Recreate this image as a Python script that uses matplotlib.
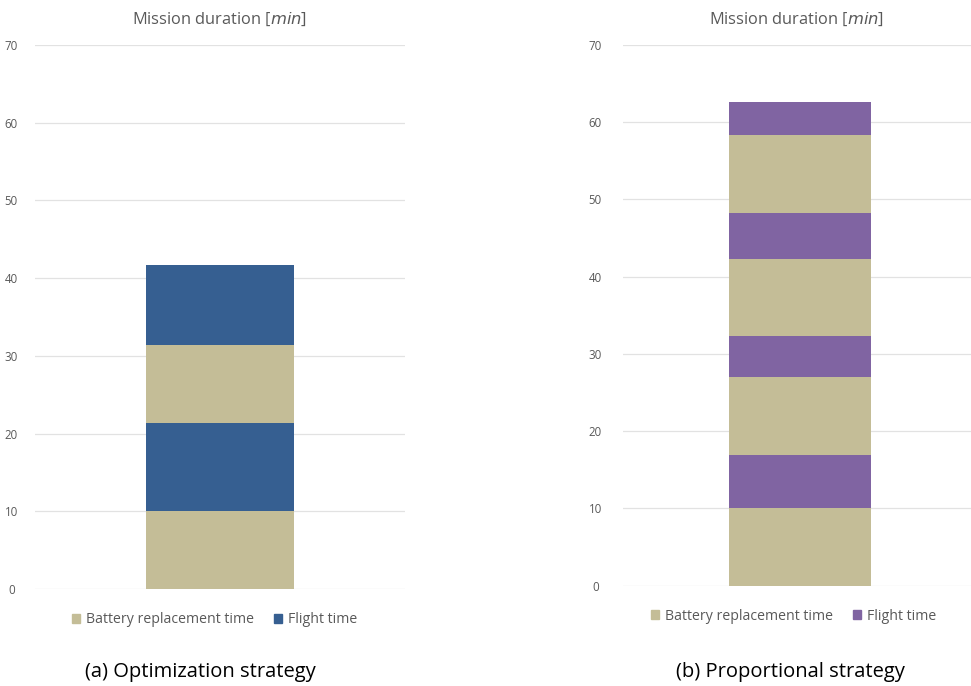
import matplotlib.pyplot as plt
from matplotlib.patches import Patch

plt.rcParams['font.family'] = ['Open Sans', 'DejaVu Sans']

# mission segments, bottom to top: battery swap, flight, battery swap, flight ...
opt_battery = [10, 10]
opt_flight = [11.4, 10.35]
prop_battery = [10, 10, 10, 10]
prop_flight = [6.95, 5.3, 6.05, 4.3]

yticks = [0, 10, 20, 30, 40, 50, 60, 70]
title = "Mission duration [$\\it{min}$]"
labels = ["Battery replacement time", "Flight time"]
captions = ["(a) Optimization strategy", "(b) Proportional strategy"]

tan = "#C4BD97"
blue = "#365F91"
purple = "#8064A2"
grey = "#595959"

fig = plt.figure(figsize=(9.71, 6.86), dpi=100)
ax1 = fig.add_axes([0.036, 0.1414, 0.381, 0.793])
ax2 = fig.add_axes([0.6416, 0.1465, 0.3584, 0.788])


def draw(ax, battery, flight, fcolor, xlim, pad, legx):
    bottom = 0
    for b, f in zip(battery, flight):
        ax.bar(0, b, width=0.4, bottom=bottom, color=tan, zorder=3)
        bottom += b
        ax.bar(0, f, width=0.4, bottom=bottom, color=fcolor, zorder=3)
        bottom += f
    ax.set_xlim(*xlim)
    ax.set_ylim(0, 70)
    ax.set_yticks(yticks)
    ax.set_xticks([])
    ax.grid(axis='y', color='#E2E2E2', linewidth=0.9, zorder=0)
    for s in ax.spines.values():
        s.set_visible(False)
    ax.tick_params(axis='y', length=0, labelsize=8.3, labelcolor=grey, pad=pad)
    for t in ax.get_yticklabels():
        t.set_horizontalalignment('center')
    ax.set_title(title, fontsize=11.8, color=grey, pad=15)
    handles = [Patch(color=tan), Patch(color=fcolor)]
    ax.legend(handles, labels, loc='upper center', bbox_to_anchor=(legx, -0.019),
              ncol=2, frameon=False, fontsize=10.2, labelcolor=grey,
              handlelength=0.6, handleheight=0.6, handletextpad=0.4,
              columnspacing=1.4)


draw(ax1, opt_battery, opt_flight, blue, (-0.5, 0.5), 17, 0.485)
draw(ax2, prop_battery, prop_flight, purple, (-0.5, 0.483), 20, 0.49)

fig.text(0.206, 0.021, captions[0], fontsize=14.5, ha='center', va='center')
fig.text(0.814, 0.021, captions[1], fontsize=14.5, ha='center', va='center')

fig.savefig("out.png", dpi=100)
